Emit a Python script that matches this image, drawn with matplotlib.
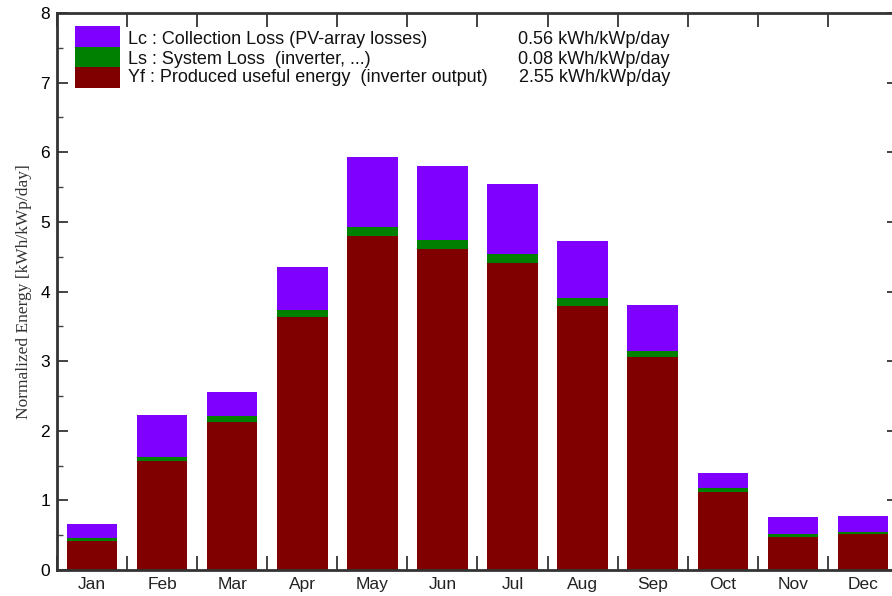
import matplotlib.pyplot as plt
from matplotlib.patches import Rectangle
from matplotlib.ticker import MultipleLocator

# monthly normalized energies [kWh/kWp/day]
months = ["Jan", "Feb", "Mar", "Apr", "May", "Jun", "Jul", "Aug", "Sep", "Oct", "Nov", "Dec"]
yf = [0.41, 1.57, 2.13, 3.64, 4.80, 4.61, 4.41, 3.79, 3.06, 1.12, 0.48, 0.52]
ls = [0.045, 0.05, 0.08, 0.10, 0.13, 0.13, 0.13, 0.11, 0.08, 0.06, 0.04, 0.03]
lc = [0.20, 0.61, 0.34, 0.61, 1.00, 1.06, 1.01, 0.83, 0.67, 0.22, 0.24, 0.23]

leg_names = ["Lc : Collection Loss (PV-array losses)",
             "Ls : System Loss  (inverter, ...)",
             "Yf : Produced useful energy  (inverter output)"]
leg_values = ["0.56 kWh/kWp/day", "0.08 kWh/kWp/day", "2.55 kWh/kWp/day"]

c_lc, c_ls, c_yf = "#8000ff", "#008000", "#800000"

plt.rcParams['font.family'] = ['Liberation Sans', 'DejaVu Sans']

W, H = 892, 596
fig = plt.figure(figsize=(W / 100, H / 100), dpi=100)
ax = fig.add_axes([57 / W, (H - 570) / H, (898 - 57) / W, (570 - 13) / H])

x = list(range(len(months)))
bot2 = [a + b for a, b in zip(yf, ls)]
ax.bar(x, yf, width=0.72, color=c_yf, linewidth=0)
ax.bar(x, ls, width=0.72, bottom=yf, color=c_ls, linewidth=0)
ax.bar(x, lc, width=0.72, bottom=bot2, color=c_lc, linewidth=0)

ax.set_xlim(-0.5, len(months) - 0.5)
ax.set_ylim(0, 8)
ax.set_xticks(x)
ax.set_xticklabels(months, color='#222222')
ax.xaxis.set_minor_locator(MultipleLocator(1, offset=0.5))
ax.yaxis.set_major_locator(MultipleLocator(1))
ax.yaxis.set_minor_locator(MultipleLocator(0.5))
ax.tick_params(axis='x', which='major', length=0, labelsize=12.5, pad=5)
ax.tick_params(axis='x', which='minor', direction='in', length=10, width=1.2,
               top=True, bottom=True, color='#222222')
ax.tick_params(axis='y', which='major', direction='in', length=8, width=1.2,
               left=True, right=True, labelsize=12.5, color='#222222', pad=5)
ax.tick_params(axis='y', which='minor', direction='in', length=4, width=1.0,
               left=True, right=True, color='#444444')
for s in ax.spines.values():
    s.set_linewidth(2)
    s.set_color('#333333')

ax.set_ylabel("Normalized Energy [kWh/kWp/day]", family=['Liberation Serif'],
              fontsize=12.5, color='#333333', labelpad=6)

# legend block
colors = [c_lc, c_ls, c_yf]
rows = [40, 59, 78]
for i in range(3):
    y0 = 26 + i * 20.7
    fig.add_artist(Rectangle((75 / W, 1 - (y0 + 20.7) / H), 45 / W, 20.7 / H,
                             transform=fig.transFigure, color=colors[i], lw=0))
    fig.text(128 / W, 1 - rows[i] / H, leg_names[i], fontsize=13, va='center', ha='left',
             color='#111111')
    fig.text(670 / W, 1 - rows[i] / H, leg_values[i], fontsize=13, va='center', ha='right',
             color='#111111')

fig.savefig("out.png", dpi=100)
